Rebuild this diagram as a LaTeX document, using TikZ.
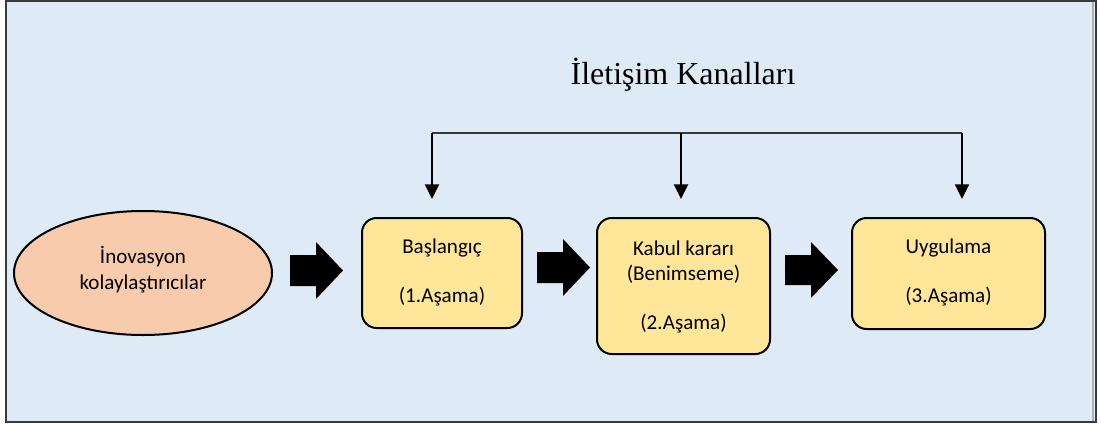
\documentclass[tikz,border=0pt]{standalone}
\usepackage{fontspec}
\setmainfont{Liberation Serif}
\newfontfamily\boxfont{Carlito}
\usetikzlibrary{arrows.meta}

\definecolor{bgblue}{HTML}{DEEAF6}
\definecolor{peach}{HTML}{F8CBAD}
\definecolor{paleyellow}{HTML}{FFE699}
\definecolor{framegray}{HTML}{3A3A3A}

\tikzset{every picture/.style={line width=0.75pt}}
\tikzset{
  stagebox/.style={draw, line width=1.5pt, fill=paleyellow, rounded corners=11pt, inner sep=0pt},
  stagetext/.style={font=\boxfont\fontsize{15.8}{19.5}\selectfont, align=center},
  blockarrow/.style={fill=black},
  channel/.style={line width=1.5pt, -{Triangle[width=10.5pt,length=11pt]}}
}

\begin{document}
\begin{tikzpicture}[x=0.75pt,y=0.75pt,yscale=-1,xscale=1]
		\useasboundingbox (0,0) rectangle (1101,425);
		
		%Shape: Rectangle [id:frame] 
		\draw [draw=framegray, fill=bgblue, line width=1.5pt] (6,1) -- (1096,1) -- (1096,422) -- (6,422) -- cycle ;
		\draw [draw=gray!60, line width=1pt] (1093,2) -- (1093,421) ;
		
		%Shape: Ellipse [id:facilitators] 
		\draw [line width=1.5pt, fill=peach] (143,273) ellipse (129 and 62) ;
		\node (facil) [stagetext] at (143,270) {İnovasyon\\kolaylaştırıcılar};
		
		%Shape: Rounded Rectangle [id:stage1] 
		\node (stage1) [stagebox, minimum width=120pt, minimum height=82.5pt] at (442,273) {};
		\node (s1a) at (442,248) [stagetext] {Başlangıç};
		\node (s1b) at (442,297) [stagetext] {(1.Aşama)};
		
		%Shape: Rounded Rectangle [id:stage2] 
		\node (stage2) [stagebox, minimum width=129.75pt, minimum height=102pt] at (683.5,286) {};
		\node (s2a) at (683.5,262.5) [stagetext, font=\boxfont\fontsize{15.8}{18.75}\selectfont] {Kabul kararı\\(Benimseme)};
		\node (s2b) at (683.5,324) [stagetext] {(2.Aşama)};
		
		%Shape: Rounded Rectangle [id:stage3] 
		\node (stage3) [stagebox, minimum width=144.75pt, minimum height=83.25pt] at (948.5,273.5) {};
		\node (s3a) at (948.5,248) [stagetext] {Uygulama};
		\node (s3b) at (948.5,297) [stagetext] {(3.Aşama)};
		
		%Shape: Right Arrow [id:arrow1] 
		\fill [blockarrow] (290,255) -- (316,255) -- (316,242) -- (343,270.5) -- (316,299) -- (316,286) -- (290,286) -- cycle ;
		%Shape: Right Arrow [id:arrow2] 
		\fill [blockarrow] (537,252) -- (563,252) -- (563,239) -- (590,267.5) -- (563,296) -- (563,283) -- (537,283) -- cycle ;
		%Shape: Right Arrow [id:arrow3] 
		\fill [blockarrow] (785,255) -- (811,255) -- (811,242) -- (838,270) -- (811,298) -- (811,285) -- (785,285) -- cycle ;
		
		% channels
		\node (title) at (683,75) [font=\fontsize{24}{28}\selectfont] {İletişim Kanalları};
		\coordinate (bus1) at (432,133);
		\coordinate (bus2) at (681,133);
		\coordinate (bus3) at (962,133);
		\coordinate (tip1) at (432,199);
		\coordinate (tip2) at (681,199);
		\coordinate (tip3) at (962,199);
		\draw [draw=framegray, line width=1.5pt] (bus1) -- (bus3) ;
		\draw [channel] (bus1) -- (tip1) ;
		\draw [channel] (bus2) -- (tip2) ;
		\draw [channel] (bus3) -- (tip3) ;
		
	\end{tikzpicture}
\end{document}
